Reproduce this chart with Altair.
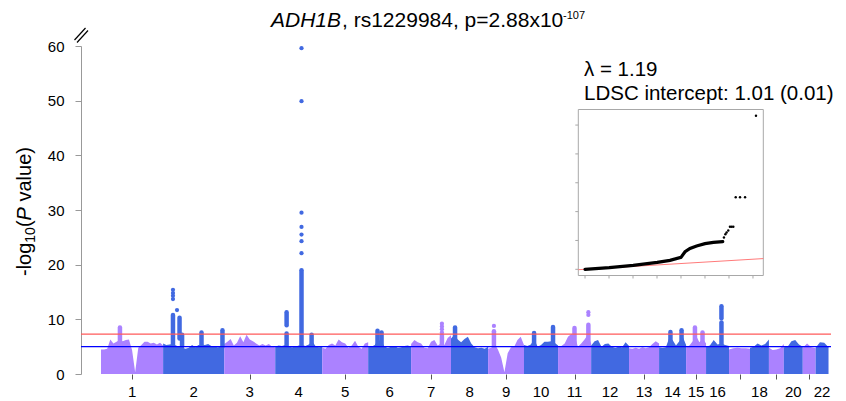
import altair as alt
import pandas as pd

PURPLE = "#AB82FF"
BLUE = "#4169E1"
FONT = "Liberation Sans"

# ---------------- data ----------------
chrom_names = [str(i) for i in range(1, 23)]
chrom_span_mb = [246, 242, 202, 186, 182, 170, 158, 147, 142, 135, 131,
                 150, 119, 107, 79, 91, 83, 75, 59, 75, 51, 51]
hidden_labels = ["17", "19", "21"]

# upper edge of the dense SNP mass, evenly spaced along each chromosome
profile_top = [
    [4.5, 4.5, 4.6, 6.3, 5.6, 5.9, 6.2, 6.0, 6.2, 6.3, 4.4, 0.3, 4.8, 5.3, 5.9, 5.9, 5.6, 5.7, 5.4, 5.7, 5.2],
    [5.6, 5.3, 5.4, 5.5, 5.2, 5.0, 4.8, 4.6, 4.8, 5.3, 4.9, 5.3, 5.4, 5.3, 5.5, 5.1, 5.0, 4.9, 5.0, 5.2],
    [5.5, 5.9, 6.4, 5.2, 5.7, 6.9, 5.8, 7.2, 6.3, 6.0, 5.6, 5.2, 5.5, 5.2, 5.5, 5.0, 4.9],
    [5.0, 5.2, 5.1, 5.3, 5.0, 4.9, 5.0, 5.2, 5.3, 5.1, 5.4, 6.0, 5.1, 4.9, 5.0],
    [4.8, 4.6, 5.3, 5.6, 5.2, 6.3, 5.8, 5.6, 4.8, 5.2, 6.1, 5.0, 4.6, 5.6, 5.8],
    [5.1, 5.0, 5.3, 6.2, 6.0, 5.0, 4.8, 5.0, 5.1, 4.8, 4.9, 5.1, 5.2, 5.0],
    [5.5, 6.2, 5.8, 5.6, 4.8, 4.7, 5.9, 6.2, 5.2, 5.6, 5.3, 6.6, 7.1],
    [6.5, 7.2, 6.3, 5.8, 6.4, 6.8, 5.6, 4.9, 4.7, 4.8, 4.6, 5.0],
    [4.6, 4.8, 5.5, 4.5, 3.0, 0.3, 3.8, 4.9, 5.0, 6.2, 6.8, 5.3],
    [5.3, 5.1, 5.4, 6.4, 5.0, 5.3, 5.9, 5.9, 6.0, 5.7, 5.2],
    [5.0, 5.1, 5.6, 6.8, 7.3, 7.0, 5.0, 5.6, 6.3, 7.2, 5.6],
    [5.2, 6.0, 6.2, 5.0, 5.5, 5.6, 5.0, 4.8, 5.0, 4.9, 5.8, 5.1],
    [4.7, 4.6, 4.8, 4.6, 4.9, 4.7, 4.9, 5.5, 6.0, 5.6],
    [4.9, 4.8, 4.9, 6.6, 6.2, 5.2, 6.0, 6.8, 5.3],
    [4.9, 5.2, 6.0, 7.0, 5.8, 6.5, 5.6],
    [5.0, 5.2, 6.2, 5.4, 5.6, 5.3, 5.1],
    [4.5, 4.7, 4.8, 4.7, 4.7, 4.6],
    [4.8, 5.0, 5.6, 5.2, 5.5, 6.3],
    [4.8, 4.4, 4.5, 4.7, 5.5],
    [4.9, 5.0, 6.0, 6.2, 5.4, 5.0],
    [4.8, 5.6, 4.9, 4.7],
    [4.8, 5.8, 5.7, 4.9],
]

# dense vertical columns of SNPs (chromosome, offset Mb, from, to)
col_chrom = [1, 2, 2, 2, 2, 2, 4, 4, 4, 4, 6, 6, 7, 8, 9, 10, 10, 11, 11, 14, 14, 15, 15, 16, 16]
col_pos = [75, 39, 65, 75, 152, 235, 45, 45, 104, 144, 37, 53, 122, 16, 23, 40, 115, 65, 120, 45, 89, 35, 65, 61, 61]
col_lo = [5.0, 5.0, 6.5, 5.0, 5.0, 5.0, 5.0, 8.9, 5.0, 5.0, 5.0, 5.0, 5.0, 5.0, 5.0, 5.0, 5.0, 5.0, 5.5, 5.0, 5.0, 5.0, 5.0, 5.0, 10.2]
col_hi = [8.5, 10.8, 10.3, 7.2, 7.6, 8.0, 7.4, 11.3, 19.0, 7.2, 7.9, 7.6, 6.8, 8.5, 7.8, 7.5, 8.6, 8.4, 9.0, 7.7, 8.0, 8.5, 7.6, 9.4, 12.4]

# isolated SNPs above the mass (chromosome, offset Mb, -log10 p)
dot_chrom = [2, 2, 2, 2, 2, 4, 4, 4, 4, 4, 4, 4, 7, 7, 7, 7, 7, 9, 11, 11]
dot_pos = [39, 39, 39, 39, 55, 104, 104, 104, 104, 104, 104, 104, 122, 122, 122, 122, 122, 23, 120, 120]
dot_p = [13.7, 14.3, 14.8, 15.4, 11.7, 22.1, 24.3, 25.5, 26.9, 29.5, 49.9, 59.6,
         7.1, 7.6, 8.2, 8.7, 9.2, 8.8, 10.8, 11.3]

thresholds = [7.3, 5.0]
threshold_colors = ["#FF5A5A", "#0000FF"]

# QQ inset: expected vs observed -log10 p
qq_exp = [0, 1.01, 2.01, 3.01, 3.54, 4.0, 4.17, 4.375, 4.65, 5.0, 5.35, 5.74]
qq_obs = [0, 1.1, 2.75, 4.8, 6.2, 8.3, 12.2, 14.5, 16.2, 17.8, 18.7, 19.2]
tail_exp = [5.79, 5.85, 5.9, 5.97, 6.04, 6.11, 6.18, 6.28, 6.46, 6.67, 7.125]
tail_obs = [22.1, 24.3, 25.5, 26.9, 29.5, 29.5, 29.5, 49.9, 49.9, 49.9, 106.5]
qq_xticks = [0, 1, 2, 3, 4, 5, 6, 7]
qq_yticks = [0, 20, 40, 60, 80, 100]
qq_xdom = [-0.28, 7.43]
qq_ydom = [-4.3, 110.8]

# ---------------- tables ----------------
starts = []
acc = 0
for s in chrom_span_mb:
    starts.append(acc)
    acc += s
centers = [round(st + sp / 2, 1) for st, sp in zip(starts, chrom_span_mb)]
tick_labels = ["" if n in hidden_labels else n for n in chrom_names]


def parity(i):
    return "odd" if (i + 1) % 2 == 1 else "even"


mass_rows = []
for i, (sp, vals) in enumerate(zip(chrom_span_mb, profile_top)):
    n = len(vals)
    for k, v in enumerate(vals):
        mass_rows.append({"chrom": chrom_names[i], "pos": starts[i] + sp * k / (n - 1),
                          "p": v, "parity": parity(i)})
mass_df = pd.DataFrame(mass_rows)

col_df = pd.DataFrame({
    "chrom": [str(c) for c in col_chrom],
    "pos": [starts[c - 1] + p for c, p in zip(col_chrom, col_pos)],
    "lo": col_lo, "hi": col_hi,
    "parity": [parity(c - 1) for c in col_chrom],
})
dot_df = pd.DataFrame({
    "pos": [starts[c - 1] + p for c, p in zip(dot_chrom, dot_pos)],
    "p": dot_p,
    "parity": [parity(c - 1) for c in dot_chrom],
})
thr_df = pd.DataFrame({"p": thresholds, "c": threshold_colors})
lab_df = pd.DataFrame({"pos": centers, "label": tick_labels})

W, H = 750, 328
MB_PER_PX = 3.96
x_dom = [-20 * MB_PER_PX, -20 * MB_PER_PX + W * MB_PER_PX]

xs = alt.Scale(domain=x_dom, nice=False, zero=False)
ys = alt.Scale(domain=[0, 60], nice=False)
cs = alt.Scale(domain=["odd", "even"], range=[PURPLE, BLUE])

x_axis = alt.Axis(values=centers, labels=False, domain=False, grid=False,
                  tickColor="#555555", tickSize=5, title=None)
y_axis = alt.Axis(values=list(range(0, 61, 10)), domainColor="#999999", tickColor="#999999",
                  tickSize=6, labelFontSize=15, labelColor="black", labelPadding=11,
                  grid=False, title=None)

area = alt.Chart(mass_df).mark_area(interpolate="linear").encode(
    x=alt.X("pos:Q", scale=xs, axis=x_axis),
    y=alt.Y("p:Q", scale=ys, axis=y_axis, stack=None),
    color=alt.Color("parity:N", scale=cs, legend=None),
    detail="chrom:N",
)
cols = alt.Chart(col_df).mark_rule(strokeWidth=4.5, strokeCap="round").encode(
    x=alt.X("pos:Q", scale=xs), y=alt.Y("lo:Q", scale=ys), y2="hi:Q",
    color=alt.Color("parity:N", scale=cs, legend=None),
)
dots = alt.Chart(dot_df).mark_circle(size=18, opacity=1).encode(
    x=alt.X("pos:Q", scale=xs), y=alt.Y("p:Q", scale=ys),
    color=alt.Color("parity:N", scale=cs, legend=None),
)
thr = alt.Chart(thr_df).mark_rule(strokeWidth=1.4).encode(
    y=alt.Y("p:Q", scale=ys),
    color=alt.Color("c:N", scale=None),
)
xlabels = alt.Chart(lab_df).mark_text(fontSize=15, color="black", align="center",
                                      baseline="alphabetic").encode(
    x=alt.X("pos:Q", scale=xs), y=alt.value(H + 23), text="label:N",
)
manhattan = alt.layer(area, cols, dots, thr, xlabels)

# ---------------- QQ inset ----------------
QX = alt.Scale(domain=qq_xdom, range=[497.3, 682.3], nice=False, zero=False)
QY = alt.Scale(domain=qq_ydom, range=[229.5, 63.5], nice=False, zero=False)

frame_df = pd.DataFrame({"qe": [qq_xdom[0]], "qe2": [qq_xdom[1]],
                         "qo": [qq_ydom[0]], "qo2": [qq_ydom[1]]})
frame = alt.Chart(frame_df).mark_rect(fillOpacity=0, stroke="#A8A8A8", strokeWidth=1).encode(
    x=alt.X("qe:Q", scale=QX, axis=None), x2="qe2:Q",
    y=alt.Y("qo:Q", scale=QY, axis=None), y2="qo2:Q",
)
qxt = alt.Chart(pd.DataFrame({"qe": qq_xticks})).mark_rule(color="#A8A8A8", strokeWidth=1).encode(
    x=alt.X("qe:Q", scale=QX, axis=None), y=alt.value(229.5), y2=alt.value(232.5))
qyt = alt.Chart(pd.DataFrame({"qo": qq_yticks})).mark_rule(color="#A8A8A8", strokeWidth=1).encode(
    y=alt.Y("qo:Q", scale=QY, axis=None), x=alt.value(494.3), x2=alt.value(497.3))
qred = alt.Chart(pd.DataFrame({"qe": qq_xdom, "qo": qq_xdom})).mark_line(
    color="#FF7A7A", strokeWidth=1).encode(
    x=alt.X("qe:Q", scale=QX, axis=None), y=alt.Y("qo:Q", scale=QY, axis=None))
qcurve = alt.Chart(pd.DataFrame({"qe": qq_exp, "qo": qq_obs})).mark_line(
    color="black", strokeWidth=3.2, strokeCap="round").encode(
    x=alt.X("qe:Q", scale=QX, axis=None), y=alt.Y("qo:Q", scale=QY, axis=None))
qtail = alt.Chart(pd.DataFrame({"qe": tail_exp, "qo": tail_obs})).mark_circle(
    color="black", size=6, opacity=1).encode(
    x=alt.X("qe:Q", scale=QX, axis=None), y=alt.Y("qo:Q", scale=QY, axis=None))
qq = alt.layer(frame, qxt, qyt, qred, qcurve, qtail)

# ---------------- texts ----------------
one = pd.DataFrame({"k": [0]})


def txt(s, x, y, size, **kw):
    return alt.Chart(one).mark_text(text=s, align="left", baseline="alphabetic",
                                    fontSize=size, color="black", **kw).encode(
        x=alt.value(x), y=alt.value(y))


texts = [
    txt("ADH1B", 190, -19, 21, fontStyle="italic"),
    txt(", rs1229984, p=2.88x10", 261, -19, 21),
    txt("-107", 482, -27, 11),
    txt("\u03bb = 1.19", 503, 30, 20.5),
    txt("LDSC intercept: 1.01 (0.01)", 503, 54, 20.5),
    txt("-log", -50, 230, 20, angle=270),
    txt("10", -46, 196.7, 14, angle=270),
    txt("(", -50, 181.1, 20, angle=270),
    txt("P", -50, 174.4, 20, angle=270, fontStyle="italic"),
    txt("value)", -50, 155.5, 20, angle=270),
]
brk = [
    alt.Chart(one).mark_rule(color="black", strokeWidth=1.2).encode(
        x=alt.value(-6.5), x2=alt.value(4.5), y=alt.value(-6), y2=alt.value(-18)),
    alt.Chart(one).mark_rule(color="black", strokeWidth=1.2).encode(
        x=alt.value(-4), x2=alt.value(7), y=alt.value(-3.5), y2=alt.value(-15.5)),
]

chart = alt.layer(manhattan, qq, *texts, *brk).resolve_scale(
    x="independent", y="independent"
).properties(
    width=W, height=H,
    padding={"left": 73, "top": 38, "right": 7, "bottom": 27},
    autosize=alt.AutoSizeParams(type="none"),
).configure(font=FONT).configure_view(strokeWidth=0)

chart.save("out.html", embed_options={"renderer": "svg", "actions": False})
